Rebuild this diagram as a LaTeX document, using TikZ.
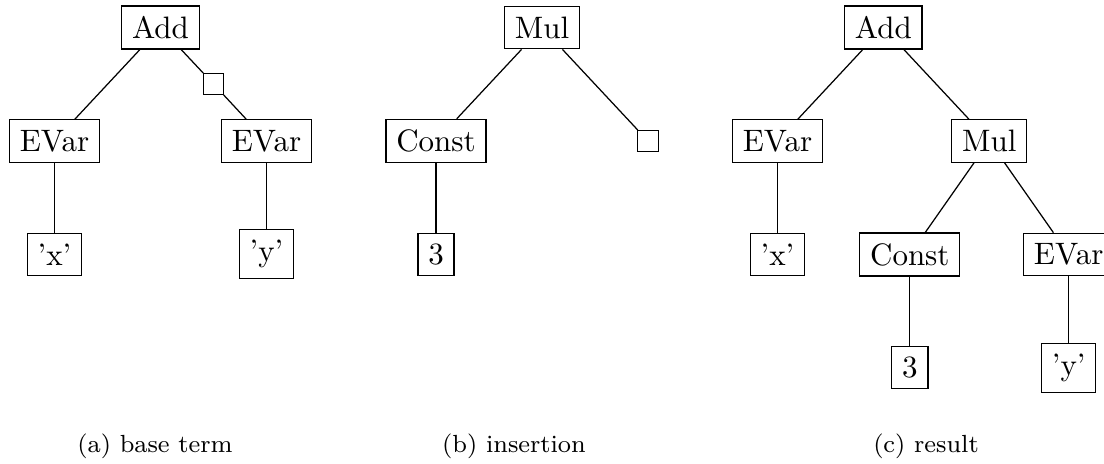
\documentclass[tikz,border=0pt]{standalone}
\begin{document}
\begin{tikzpicture}[x=0.3226pt,y=-0.3226pt,
  term/.style={draw,inner sep=3.33pt},
  hole/.style={draw,inner sep=3.33pt},
  edge/.style={line width=0.4pt},
  subcap/.style={font=\footnotesize,anchor=base}]
\useasboundingbox (0,0) rectangle (1104,463);
\clip (0,0) rectangle (1104,463);

% (a) base term
\node[term] (aAdd)  at (160.5,27.5) {Add};
\node[hole] (aHole) at (213.5,84) {};
\node[term] (aEl)   at (54.5,141) {EVar};
\node[term] (aEr)   at (266.5,141) {EVar};
\node[term] (ax)    at (54.5,254.5) {'x'};
\node[term] (ay)    at (266.5,254) {'y'};
\draw[edge] (aAdd) -- (aEl);
\draw[edge] (aAdd) -- (aHole);
\draw[edge] (aHole) -- (aEr);
\draw[edge] (aEl) -- (ax);
\draw[edge] (aEr) -- (ay);
\node[subcap] (capA) at (155,452) {(a) base term};

% (b) insertion
\node[term] (bMul)   at (542,27.5) {Mul};
\node[term] (bConst) at (436,141) {Const};
\node[hole] (bHole)  at (648,141) {};
\node[term] (b3)     at (436,254.5) {3};
\draw[edge] (bMul) -- (bConst);
\draw[edge] (bMul) -- (bHole);
\draw[edge] (bConst) -- (b3);
\node[subcap] (capB) at (514,452) {(b) insertion};

% (c) result
\node[term] (cAdd)   at (883.3,27.5) {Add};
\node[term] (cEl)    at (777.5,141) {EVar};
\node[term] (cMul)   at (989.3,141) {Mul};
\node[term] (cx)     at (777.5,254.5) {'x'};
\node[term] (cConst) at (909.8,254.5) {Const};
\node[term] (cEr)    at (1068.7,254.5) {EVar};
\node[term] (c3)     at (909.8,367.5) {3};
\node[term] (cy)     at (1068.7,368) {'y'};
\draw[edge] (cAdd) -- (cEl);
\draw[edge] (cAdd) -- (cMul);
\draw[edge] (cEl) -- (cx);
\draw[edge] (cMul) -- (cConst);
\draw[edge] (cMul) -- (cEr);
\draw[edge] (cConst) -- (c3);
\draw[edge] (cEr) -- (cy);
\node[subcap] (capC) at (926,452) {(c) result};
\end{tikzpicture}
\end{document}
